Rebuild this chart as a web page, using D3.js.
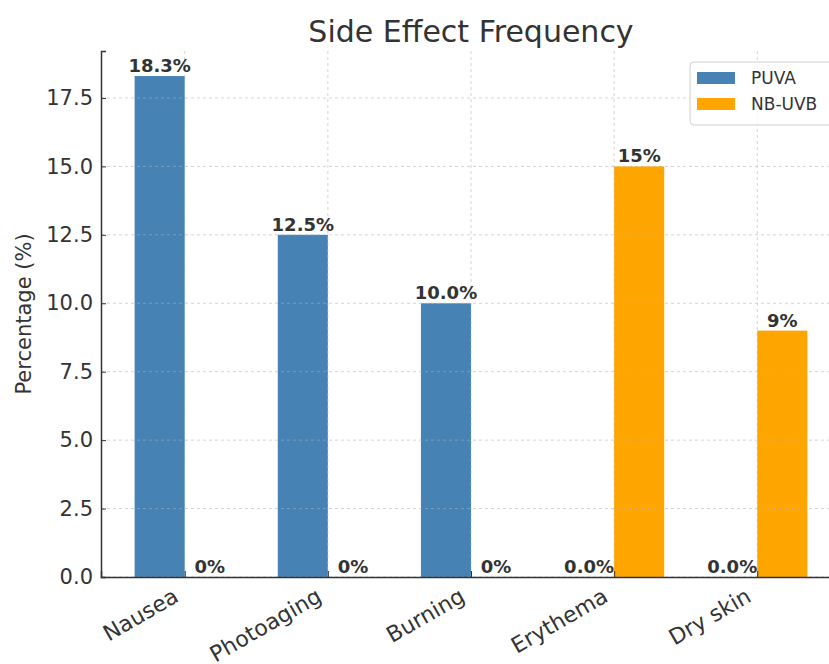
<!DOCTYPE html>
<html>
<head>
<meta charset="utf-8">
<script src="https://cdn.jsdelivr.net/npm/d3@7"></script>
<style>
  body { margin: 0; background: #fff; overflow: hidden; }
  text { font-family: "DejaVu Sans", sans-serif; }
</style>
</head>
<body>
<svg id="chart" width="829" height="664"></svg>
<script>
const categories = ["Nausea", "Photoaging", "Burning", "Erythema", "Dry skin"];
const seriesNames = ["PUVA", "NB-UVB"];
const puvaValues = [18.3, 12.5, 10.0, 0, 0];
const nbuvbValues = [0, 0, 0, 15, 9];
const puvaLabels = ["18.3%", "12.5%", "10.0%", "0.0%", "0.0%"];
const nbuvbLabels = ["0%", "0%", "0%", "15%", "9%"];
const yTicks = [0, 2.5, 5, 7.5, 10, 12.5, 15, 17.5];
const colors = ["#4682b4", "#ffa500"];

const svg = d3.select("#chart"),
    margin = {top: 51, left: 101},
    width = 740,
    height = 526,
    g = svg.append("g").attr("transform", `translate(${margin.left},${margin.top})`);

const barW = 0.35;
const x = d3.scaleLinear().domain([-0.585, 4.585]).range([0, width]);
const y = d3.scaleLinear().domain([0, 19.215]).range([height, 0]);

const series = [
    {name: seriesNames[0], values: puvaValues, labels: puvaLabels, offset: -barW, color: colors[0]},
    {name: seriesNames[1], values: nbuvbValues, labels: nbuvbLabels, offset: 0, color: colors[1]}
];

// bars
series.forEach(s => {
    g.selectAll(null)
        .data(s.values)
        .join("rect")
        .attr("x", (d, i) => x(i + s.offset))
        .attr("width", x(barW) - x(0))
        .attr("y", d => y(d))
        .attr("height", d => y(0) - y(d))
        .attr("fill", s.color);
});

// grid lines (drawn on top, faint)
const grid = g.append("g").attr("stroke", "#b0b0b0").attr("stroke-opacity", 0.55)
    .attr("stroke-dasharray", "3,3");
grid.selectAll(null).data(yTicks).join("line")
    .attr("x1", 0).attr("x2", width)
    .attr("y1", d => y(d)).attr("y2", d => y(d));
grid.selectAll(null).data(categories).join("line")
    .attr("x1", (d, i) => x(i)).attr("x2", (d, i) => x(i))
    .attr("y1", 0).attr("y2", height);

// value labels
series.forEach(s => {
    g.selectAll(null)
        .data(s.values)
        .join("text")
        .attr("x", (d, i) => x(i + s.offset + barW / 2))
        .attr("y", d => y(d) - 4)
        .attr("text-anchor", "middle")
        .attr("font-size", 18)
        .attr("font-weight", "bold")
        .attr("fill", "#333")
        .text((d, i) => s.labels[i]);
});

// y axis
const yAxis = g.append("g")
    .call(d3.axisLeft(y).tickValues(yTicks).tickFormat(d3.format(".1f")).tickSize(-5).tickPadding(8));
yAxis.select(".domain").attr("stroke", "#333").attr("stroke-width", 1.5);
yAxis.selectAll(".tick line").attr("stroke", "#333");
yAxis.selectAll(".tick text").attr("font-size", 21).attr("fill", "#333")
    .attr("font-family", "DejaVu Sans, sans-serif");

// x axis
const xAxis = g.append("g")
    .attr("transform", `translate(0,${height})`)
    .call(d3.axisBottom(x).tickValues(d3.range(categories.length)).tickFormat(i => categories[i]).tickSize(-6));
xAxis.select(".domain").attr("stroke", "#333").attr("stroke-width", 1.5);
xAxis.selectAll(".tick line").attr("stroke", "#333");
xAxis.selectAll(".tick text")
    .attr("font-size", 22).attr("fill", "#333")
    .attr("font-family", "DejaVu Sans, sans-serif")
    .attr("text-anchor", "end")
    .attr("y", 0)
    .attr("dy", "0.71em")
    .attr("transform", "translate(-13,10) rotate(-30)");

// title
svg.append("text")
    .attr("x", margin.left + width / 2)
    .attr("y", 42)
    .attr("text-anchor", "middle")
    .attr("font-size", 30)
    .attr("fill", "#333")
    .text("Side Effect Frequency");

// y label
g.append("text")
    .attr("x", -height / 2)
    .attr("y", -70)
    .attr("transform", "rotate(-90)")
    .attr("text-anchor", "middle")
    .attr("font-size", 21)
    .attr("fill", "#333")
    .text("Percentage (%)");

// legend
const legend = svg.append("g").attr("transform", "translate(690,62)");
legend.append("rect")
    .attr("width", 146).attr("height", 63).attr("rx", 4)
    .attr("fill", "#fff").attr("fill-opacity", 0.85)
    .attr("stroke", "#d0d0d0");
series.forEach((s, i) => {
    legend.append("rect")
        .attr("x", 7).attr("y", 10 + i * 26)
        .attr("width", 38).attr("height", 12)
        .attr("fill", s.color);
    legend.append("text")
        .attr("x", 61).attr("y", 22 + i * 26)
        .attr("font-size", 17)
        .attr("fill", "#333")
        .text(s.name);
});
</script>
</body>
</html>
